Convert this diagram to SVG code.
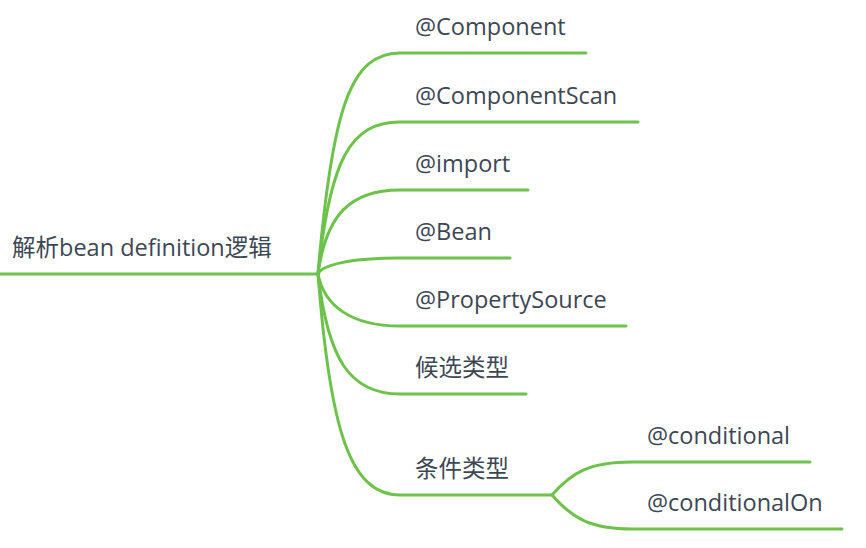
<svg xmlns="http://www.w3.org/2000/svg" width="866" height="548" viewBox="0 0 866 548">
<style>
.t{font-family:"Open Sans","Noto Sans CJK SC",sans-serif;font-size:23.5px;fill:#3d4753}
.c{fill:none;stroke:#6cc24a;stroke-width:3;stroke-linecap:round}
</style>
<rect width="866" height="548" fill="#fff"/>
<g id="connectors">
<path class="c" d="M0,274 L318,274"/>
<path class="c" d="M318,274 C332,110 350,53 400,53 L586,53"/>
<path class="c" d="M318,274 C330,160 350,122 400,122 L638,122"/>
<path class="c" d="M318,274 C326,215 350,190 400,190 L528,190"/>
<path class="c" d="M318,274 C322,265 350,258 400,258 L510,258"/>
<path class="c" d="M318,274 C324,305 350,326 400,326 L626,326"/>
<path class="c" d="M318,274 C328,360 350,394 400,394 L526,394"/>
<path class="c" d="M318,274 C330,430 350,495 400,495 L552,495"/>
<path class="c" d="M552,495 C572,472 590,462 632,462 L810,462"/>
<path class="c" d="M552,495 C572,518 590,529 632,529 L842,529"/>
</g>
<g id="root"><text class="t" x="12" y="256" font-size="23">解析bean definition逻辑</text></g>
<g id="n1"><text class="t" x="415" y="35">@Component</text></g>
<g id="n2"><text class="t" x="415" y="104">@ComponentScan</text></g>
<g id="n3"><text class="t" x="415" y="172">@import</text></g>
<g id="n4"><text class="t" x="415" y="240">@Bean</text></g>
<g id="n5"><text class="t" x="415" y="308">@PropertySource</text></g>
<g id="n6"><text class="t" x="415" y="376">候选类型</text></g>
<g id="n7"><text class="t" x="415" y="477">条件类型</text></g>
<g id="n8"><text class="t" x="647" y="444">@conditional</text></g>
<g id="n9"><text class="t" x="647" y="511">@conditionalOn</text></g>
</svg>
